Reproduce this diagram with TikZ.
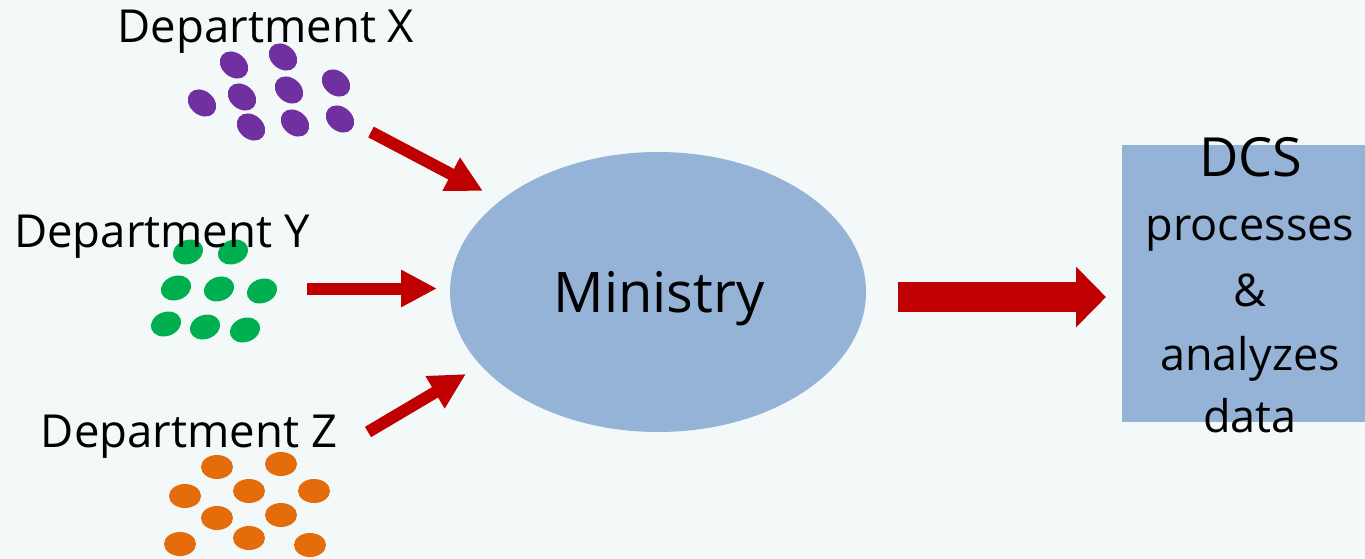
\documentclass[tikz,border=0pt]{standalone}
\usepackage{fontspec}
\setmainfont{Open Sans}
\usetikzlibrary{shapes.geometric,arrows.meta}
\definecolor{bg}{HTML}{F3F8F9}
\definecolor{shapeblue}{HTML}{95B3D7}
\definecolor{arrowred}{HTML}{C00000}
\definecolor{dpurple}{HTML}{7030A0}
\definecolor{dgreen}{HTML}{00B050}
\definecolor{dorange}{HTML}{E46C0A}
\tikzset{
  dot/.style={ellipse, draw=none, inner sep=0pt, minimum width=31pt, minimum height=24pt},
  pdot/.style={dot, fill=dpurple, rotate=-40},
  gdot/.style={dot, fill=dgreen, rotate=20},
  odot/.style={dot, fill=dorange, minimum width=32pt},
  deptlabel/.style={anchor=base, inner sep=0pt, font=\fontsize{45.5}{54}\selectfont},
  boxtext/.style={anchor=base, inner sep=0pt, font=\fontsize{45}{54}\selectfont},
  redarrow/.style={draw=arrowred, line width=12pt, -{Triangle[width=35pt,length=36pt]}},
  bigarrow/.style={draw=arrowred, line width=30pt, -{Triangle[width=59pt,length=30pt]}}
}
\begin{document}
\begin{tikzpicture}[x=1pt,y=-1pt]
\useasboundingbox (0,0) rectangle (1365,559);
\fill[bg] (0,0) rectangle (1365,559);

% purple dots
\node[pdot] (p1) at (234,65) {};
\node[pdot] (p2) at (283,57) {};
\node[pdot] (p3) at (202,103) {};
\node[pdot] (p4) at (242,97) {};
\node[pdot] (p5) at (289,90) {};
\node[pdot] (p6) at (336,83) {};
\node[pdot] (p7) at (251,127) {};
\node[pdot] (p8) at (295,123) {};
\node[pdot] (p9) at (340,119) {};

% green dots
\node[gdot] (g1) at (188,252) {};
\node[gdot] (g2) at (233,252) {};
\node[gdot] (g3) at (176,288) {};
\node[gdot] (g4) at (219,289) {};
\node[gdot] (g5) at (262,291) {};
\node[gdot] (g6) at (166,324) {};
\node[gdot] (g7) at (205,327) {};
\node[gdot] (g8) at (245,330) {};

% orange dots
\node[odot] (o1) at (217,467) {};
\node[odot] (o2) at (281,464) {};
\node[odot] (o3) at (185,496) {};
\node[odot] (o4) at (249,491) {};
\node[odot] (o5) at (314,491) {};
\node[odot] (o6) at (217,518) {};
\node[odot] (o7) at (281,515) {};
\node[odot] (o8) at (180,544) {};
\node[odot] (o9) at (249,538) {};
\node[odot] (o10) at (310,545) {};

% labels
\node[deptlabel] (dx) at (266,43) {Department X};
\node[deptlabel] (dy) at (162,247) {Department Y};
\node[deptlabel] (dz) at (189,447) {Department Z};

% ministry
\node[ellipse, fill=shapeblue, draw=none, minimum width=416pt, minimum height=280pt, inner sep=0pt] (min) at (658,292) {};
\node[anchor=base, inner sep=0pt, font=\fontsize{56}{66}\selectfont] (mintext) at (659,312) {Ministry};

% DCS box
\node[rectangle, fill=shapeblue, draw=none, anchor=north west, minimum width=243pt, minimum height=277pt, inner sep=0pt] (dcs) at (1122,145) {};
\node[anchor=base, inner sep=0pt, font=\fontsize{54}{64}\selectfont] (t1) at (1251,176) {DCS};
\node[boxtext] (t2) at (1250,240) {processes};
\node[boxtext] (t3) at (1250,306) {\&};
\node[boxtext] (t4) at (1250,370) {analyzes};
\node[boxtext] (t5) at (1250,432) {data};

% arrows
\coordinate (xa) at (371,132);
\coordinate (xb) at (483,191);
\coordinate (ya) at (307,288.5);
\coordinate (yb) at (437,288.5);
\coordinate (za) at (368,432);
\coordinate (zb) at (466,374);
\coordinate (ma) at (898,297);
\coordinate (mb) at (1106,297);
\draw[redarrow] (xa) -- (xb);
\draw[redarrow] (ya) -- (yb);
\draw[redarrow] (za) -- (zb);
\draw[bigarrow] (ma) -- (mb);
\end{tikzpicture}
\end{document}
